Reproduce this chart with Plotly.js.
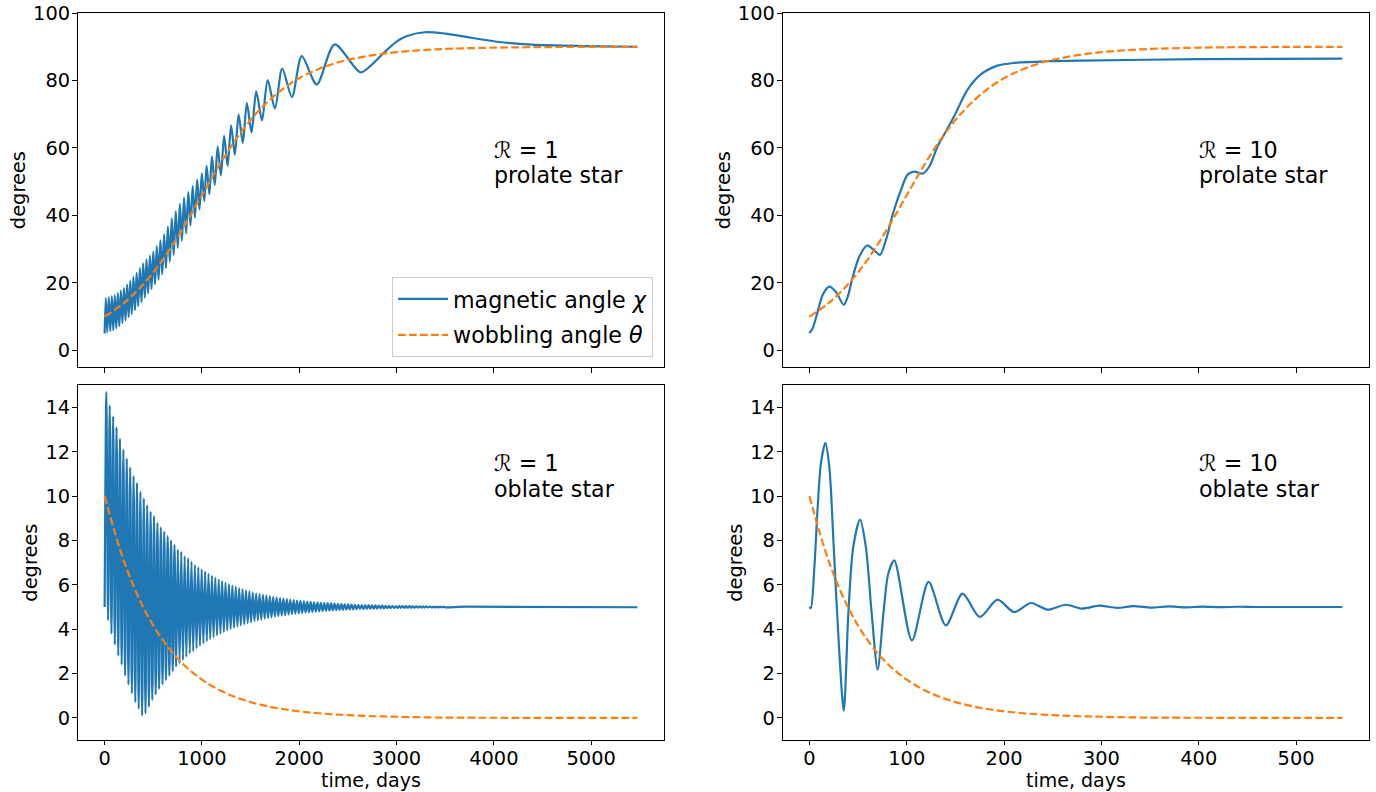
<!DOCTYPE html>
<html>
<head>
<meta charset="utf-8">
<script src="https://cdn.plot.ly/plotly-3.0.1.min.js"></script>
<style>html,body{margin:0;padding:0;background:#fff;}#chart{width:1376px;height:792px;}</style>
</head>
<body>
<div id="chart"></div>
<script>
// ---------- data ----------
// wobbling angle theta, left panels (days)
const tThetaL = [0,200,400,600,800,1000,1200,1400,1600,1800,2000,2200,2400,2600,2800,3000,3300,3600,4000,4500,5000,5475];
// wobbling angle theta, right panels (days)
const tThetaR = [0,20,40,60,80,100,120,140,160,180,200,220,240,260,280,300,330,360,400,450,500,547.5];
// prolate star theta (top row)
const thetaProlate = [10.0,14.1,19.7,27.0,36.0,46.0,55.9,64.6,71.5,76.8,80.7,83.4,85.4,86.7,87.7,88.4,89.06,89.45,89.73,89.89,89.95,89.98];
// oblate star theta (bottom row)
const thetaOblate = [10.0,7.05,4.96,3.49,2.45,1.72,1.21,0.848,0.595,0.418,0.293,0.206,0.144,0.101,0.071,0.050,0.021,0.0085,0.0035,0.0015,0.0008,0.0006];

// magnetic angle chi, R=1 prolate (top-left)
const tChiTL = [0,12,27,43,58,74,89,105,120,136,151,167,183,199,215,231,247,263,279,296,312,329,345,362,379,396,413,430,447,465,482,500,518,536,554,573,592,611,630,650,670,690,710,731,752,773,794,816,838,860,882,905,928,951,975,999,1024,1048,1076,1103,1132,1162,1195,1228,1264,1300,1338,1377,1420,1462,1510,1558,1617,1676,1750,1825,1925,2026,2180,2364,2631,2750,2877,3000,3100,3287,3500,3715,4057,4395,4908,5475];
const chiTL = [5.0,15.5,5.4,15.8,5.7,16.1,6.0,16.4,6.5,17.0,7.2,17.7,8.1,18.5,8.9,19.5,9.9,20.6,10.8,21.8,11.9,23.0,13.1,24.4,14.3,25.8,15.6,27.0,16.9,28.1,18.2,29.3,19.6,30.9,21.0,32.6,22.6,34.4,24.4,36.7,26.3,39.1,28.3,41.2,30.4,43.4,32.5,45.3,34.7,46.9,37.0,48.7,39.4,50.6,41.8,52.5,44.2,54.7,46.3,57.5,49.0,60.5,51.9,63.6,54.7,66.7,58.0,69.9,61.5,73.3,64.6,76.8,68.2,80.1,71.7,83.5,75.1,87.2,78.8,90.7,82.4,84.8,88.4,91.5,93.1,94.3,93.9,92.9,91.4,90.6,90.2,90.0];

// magnetic angle chi, R=1 oblate (bottom-left)
const tChiBL = [0,17.5,35,52.5,70,87.5,105,122.5,140,157.5,175,192.5,210,227.5,245,262.5,280,297.5,315,332.5,350,367.5,385,402.5,420,437.5,455,472.5,490,507.5,525,542.5,560,577.5,595,612.5,630,647.5,665,682.5,700,717.5,735,752.5,770,787.5,805,822.5,840,857.5,875,892.5,910,927.5,945,962.5,980,997.5,1015,1032.5,1050,1067.5,1085,1102.5,1120,1137.5,1155,1172.5,1190,1207.5,1225,1242.5,1260,1277.5,1295,1312.5,1330,1347.5,1365,1382.5,1400,1417.5,1435,1452.5,1470,1487.5,1505,1522.5,1540,1557.5,1575,1592.5,1610,1627.5,1645,1662.5,1680,1697.5,1715,1732.5,1750,1767.5,1785,1802.5,1820,1837.5,1855,1872.5,1890,1907.5,1925,1942.5,1960,1977.5,1995,2012.5,2030,2047.5,2065,2082.5,2100,2117.5,2135,2152.5,2170,2187.5,2205,2222.5,2240,2257.5,2275,2292.5,2310,2327.5,2345,2362.5,2380,2397.5,2415,2432.5,2450,2467.5,2485,2502.5,2520,2537.5,2555,2572.5,2590,2607.5,2625,2642.5,2660,2677.5,2695,2712.5,2730,2747.5,2765,2782.5,2800,2817.5,2835,2852.5,2870,2887.5,2905,2922.5,2940,2957.5,2975,2992.5,3010,3027.5,3045,3062.5,3080,3097.5,3115,3132.5,3150,3167.5,3185,3202.5,3220,3237.5,3255,3272.5,3290,3307.5,3325,3342.5,3360,3377.5,3395,3412.5,3430,3447.5,3465,3482.5,3500,3700,5475];
const chiBL = [5.0,14.7,4.4,14.1,3.8,13.6,3.3,13.1,2.8,12.6,2.4,12.1,1.9,11.7,1.5,11.3,1.1,10.9,0.7,10.6,0.4,10.2,0.1,9.9,0.2,9.6,0.5,9.3,0.8,9.1,1.05,8.8,1.3,8.6,1.5,8.4,1.7,8.2,1.9,8.0,2.1,7.8,2.3,7.6,2.45,7.5,2.6,7.3,2.75,7.2,2.9,7.05,3.0,6.9,3.13,6.8,3.25,6.7,3.35,6.6,3.45,6.5,3.55,6.41,3.63,6.33,3.72,6.24,3.79,6.17,3.87,6.10,3.94,6.03,4.0,5.97,4.06,5.91,4.12,5.85,4.17,5.80,4.22,5.75,4.27,5.71,4.31,5.66,4.36,5.62,4.40,5.59,4.43,5.55,4.47,5.52,4.50,5.49,4.53,5.46,4.56,5.43,4.59,5.40,4.61,5.38,4.63,5.36,4.66,5.33,4.68,5.31,4.70,5.29,4.72,5.28,4.73,5.26,4.75,5.24,4.76,5.23,4.78,5.21,4.79,5.20,4.80,5.19,4.82,5.18,4.83,5.17,4.84,5.16,4.85,5.15,4.86,5.14,4.87,5.13,4.87,5.12,4.88,5.115,4.89,5.11,4.895,5.10,4.90,5.095,4.91,5.09,4.91,5.085,4.92,5.08,4.92,5.075,4.93,5.07,4.93,5.065,4.94,5.06,4.94,5.055,4.95,5.05,4.95,5.045,4.955,5.045,4.955,5.04,4.96,5.04,4.96,5.035,4.965,5.035,4.965,5.03,4.97,5.03,4.97,5.028,4.972,5.026,4.974,5.024,4.976,5.022,4.978,5.02,4.98,5.018,4.982,5.016,4.984,5.014,4.986,5.012,4.988,5.01,4.99,5.0,5.0];

// magnetic angle chi, R=10 prolate (top-right)
const tChiTR = [0,3.4,8.5,13.7,20.5,27.3,35.3,39.5,44.6,51.3,59.2,66.7,72.5,78.7,85.5,94.1,100.9,107.7,116.3,123.2,131.7,140.2,148.7,162.5,176.1,193.2,210,244.5,278.7,400,547.5];
const chiTR = [5.1,6.6,11.5,16.5,18.9,17.3,13.5,16.0,21.9,27.8,31.1,29.6,28.3,32.8,40.2,47.6,52.1,53.0,52.4,54.5,60.5,64.9,69.4,77.3,81.8,84.4,85.2,85.7,85.9,86.3,86.5];

// magnetic angle chi, R=10 oblate (bottom-right)
const tChiBR = [0,1.5,5.1,8.5,11.9,16.4,20.5,25,30,35.3,40,45,52,58,64,70.1,76,81,87.2,105.3,122.4,140.2,157.3,175.1,193.2,210.3,227.4,244.5,263.3,280,298,316,333,351,369,386,404,421,439,460,547.5];
const chiBR = [5.0,4.95,6.8,9.5,11.5,12.4,11.3,7.7,3.5,0.33,4.7,7.7,8.94,7.7,4.7,2.17,4.7,6.5,7.1,3.49,6.13,4.17,5.6,4.55,5.33,4.77,5.18,4.88,5.10,4.93,5.06,4.96,5.04,4.975,5.025,4.985,5.015,4.99,5.01,5.0,5.0];

// labels
const chiName = 'magnetic angle <i>χ</i>';
const thetaName = 'wobbling angle <i>θ</i>';
const xTitle = 'time, days';
const yTitle = 'degrees';
const xTicksL = [0,1000,2000,3000,4000,5000];
const xTicksR = [0,100,200,300,400,500];
const yTicksTop = [0,20,40,60,80,100];
const yTicksBot = [0,2,4,6,8,10,12,14];
const noteRatio = ['ℛ = 1','ℛ = 10','ℛ = 1','ℛ = 10'];
const noteShape = ['prolate star','prolate star','oblate star','oblate star'];

// ---------- styling ----------
const BLUE = '#1f77b4', ORANGE = '#ff7f0e';
const FONT = 'DejaVu Sans, Liberation Sans, sans-serif';
const FS = 19.4;   // tick labels and axis titles
const FL = 22.2;   // legend and panel notes
const chiLine = {color: BLUE, width: 2.2, shape: 'spline', smoothing: 0.8};
const thetaLine = {color: ORANGE, width: 2.2, dash: '7.7px,3.3px', shape: 'spline'};

function chiTrace(x, y, xa, ya, show) {
  return {type:'scatter', mode:'lines', x:x, y:y, xaxis:xa, yaxis:ya, name:chiName,
          line:chiLine, showlegend:show, legendgroup:'chi', hoverinfo:'skip'};
}
function thetaTrace(x, y, xa, ya, show) {
  return {type:'scatter', mode:'lines', x:x, y:y, xaxis:xa, yaxis:ya, name:thetaName,
          line:thetaLine, showlegend:show, legendgroup:'theta', hoverinfo:'skip'};
}

const data = [
  chiTrace(tChiTL, chiTL, 'x', 'y', true),
  thetaTrace(tThetaL, thetaProlate, 'x', 'y', true),
  chiTrace(tChiTR, chiTR, 'x2', 'y2', false),
  thetaTrace(tThetaR, thetaProlate, 'x2', 'y2', false),
  chiTrace(tChiBL, chiBL, 'x3', 'y3', false),
  thetaTrace(tThetaL, thetaOblate, 'x3', 'y3', false),
  chiTrace(tChiBR, chiBR, 'x4', 'y4', false),
  thetaTrace(tThetaR, thetaOblate, 'x4', 'y4', false)
];

const common = {showline:true, mirror:true, linecolor:'#000', linewidth:1, ticks:'outside',
  ticklen:5, tickwidth:1, tickcolor:'#000', showgrid:false, zeroline:false,
  tickfont:{family:FONT, size:FS, color:'#000'}, fixedrange:true};
const yCommon = Object.assign({}, common, {ticklabelstandoff:-2});
const xCommon = Object.assign({}, common, {ticklen:4, ticklabelstandoff:-3});
const titleFont = {family:FONT, size:FS, color:'#000'};
const xTitleFont = {family:FONT, size:19, color:'#000'};

const colL = [0, 0.4539], colR = [0.5459, 1.0];
const rowT = [0.5127, 1.0], rowB = [0, 0.4879];
const rangeL = [-273.75, 5748.75], rangeR = [-27.375, 574.875];

function note(xa, ya, y, text) {
  return {xref:xa + ' domain', yref:ya + ' domain', x:0.707, y:y, text:text,
    xanchor:'left', yanchor:'middle', align:'left', showarrow:false,
    font:{family:FONT, size:FL, color:'#000'}};
}
function xLabel(xa) {
  return {xref:xa + ' domain', yref:'paper', x:0.5, y:-0.0714, text:xTitle,
    xanchor:'center', yanchor:'bottom', showarrow:false, borderpad:0,
    font:xTitleFont};
}

const layout = {
  width:1376, height:792,
  margin:{l:78, r:7, t:13, b:52, pad:0},
  paper_bgcolor:'#fff', plot_bgcolor:'#fff',
  font:{family:FONT, size:FS, color:'#000'},
  showlegend:true,
  legend:{x:0.4454, xanchor:'right', y:0.5268, yanchor:'bottom',
    bgcolor:'rgba(255,255,255,0.8)', bordercolor:'#cccccc', borderwidth:1,
    font:{family:FONT, size:FL, color:'#000'}, tracegroupgap:4, traceorder:'grouped',
    itemwidth:50},
  xaxis: Object.assign({}, xCommon, {domain:colL, anchor:'y', range:rangeL, tickvals:xTicksL, showticklabels:false, ticklen:5}),
  yaxis: Object.assign({}, yCommon, {domain:rowT, anchor:'x', range:[-5,100], tickvals:yTicksTop,
          title:{text:yTitle, font:titleFont, standoff:2}}),
  xaxis2: Object.assign({}, xCommon, {domain:colR, anchor:'y2', range:rangeR, tickvals:xTicksR, showticklabels:false, ticklen:5}),
  yaxis2: Object.assign({}, yCommon, {domain:rowT, anchor:'x2', range:[-5,100], tickvals:yTicksTop,
          title:{text:yTitle, font:titleFont, standoff:2}}),
  xaxis3: Object.assign({}, xCommon, {domain:colL, anchor:'y3', range:rangeL, tickvals:xTicksL}),
  yaxis3: Object.assign({}, yCommon, {domain:rowB, anchor:'x3', range:[-1,15], tickvals:yTicksBot,
          title:{text:yTitle, font:titleFont, standoff:2}}),
  xaxis4: Object.assign({}, xCommon, {domain:colR, anchor:'y4', range:rangeR, tickvals:xTicksR}),
  yaxis4: Object.assign({}, yCommon, {domain:rowB, anchor:'x4', range:[-1,15], tickvals:yTicksBot,
          title:{text:yTitle, font:titleFont, standoff:2}}),
  annotations: [
    note('x', 'y', 0.614, noteRatio[0]), note('x', 'y', 0.543, noteShape[0]),
    note('x2', 'y2', 0.614, noteRatio[1]), note('x2', 'y2', 0.543, noteShape[1]),
    note('x3', 'y3', 0.781, noteRatio[2]), note('x3', 'y3', 0.708, noteShape[2]),
    note('x4', 'y4', 0.781, noteRatio[3]), note('x4', 'y4', 0.708, noteShape[3]),
    xLabel('x3'), xLabel('x4')
  ]
};

Plotly.newPlot('chart', data, layout, {displayModeBar:false, staticPlot:true});
</script>
</body>
</html>
